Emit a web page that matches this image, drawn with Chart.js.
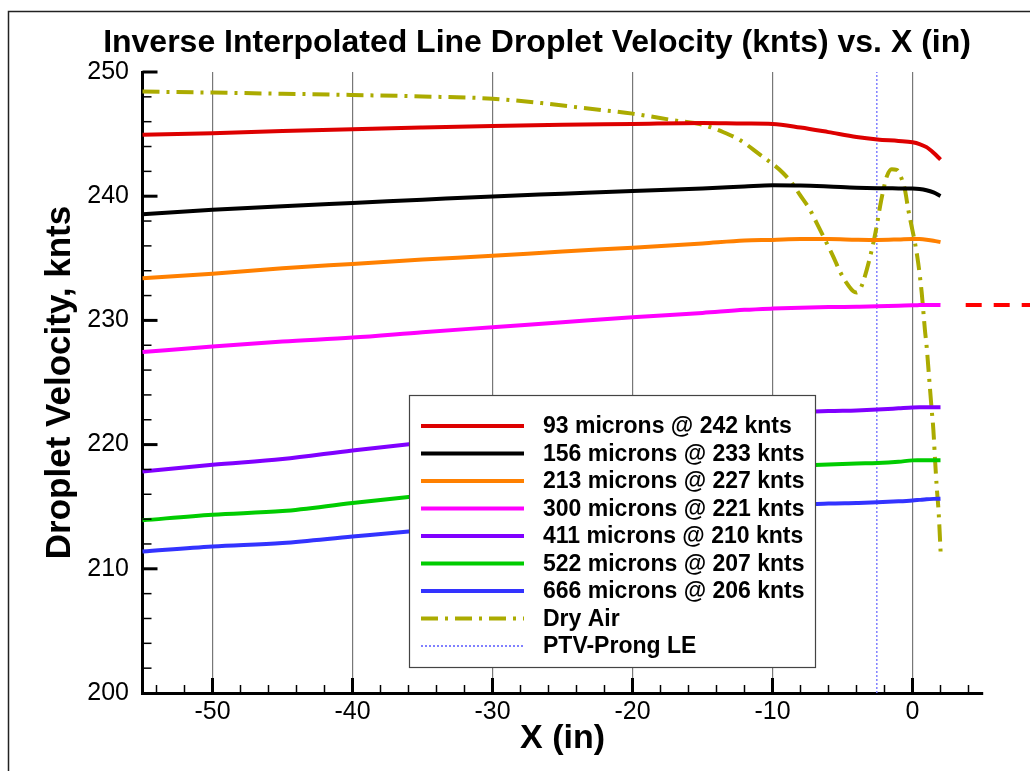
<!DOCTYPE html>
<html>
<head>
<meta charset="utf-8">
<title>Droplet Velocity vs. X</title>
<script src="https://cdn.jsdelivr.net/npm/chart.js@4.4.1/dist/chart.umd.min.js"></script>
<style>
  html, body { margin: 0; padding: 0; background: #fff; }
  #wrap { position: relative; width: 1030px; height: 771px; }
</style>
</head>
<body>
<div id="wrap"><canvas id="velChart"></canvas></div>
<script>
"use strict";

/* ---- data ---- */
var X_TICKS = [-50, -40, -30, -20, -10, 0];
var Y_TICKS = [200, 210, 220, 230, 240, 250];

var LABELS = [
  '93 microns @ 242 knts',
  '156 microns @ 233 knts',
  '213 microns @ 227 knts',
  '300 microns @ 221 knts',
  '411 microns @ 210 knts',
  '522 microns @ 207 knts',
  '666 microns @ 206 knts',
  'Dry Air',
  'PTV-Prong LE'
];

// x stations (in) shared by the droplet curves
var X_DROP = [-55, -50, -45, -40, -35, -30, -25, -20, -15, -12, -10, -8, -6, -4, -2.5, -1, 0, 0.5, 1, 1.5, 2];

var V93  = [244.95, 245.07, 245.25, 245.40, 245.53, 245.65, 245.75, 245.82, 245.90, 245.85, 245.82, 245.53, 245.16, 244.77, 244.57, 244.45, 244.34, 244.20, 243.95, 243.50, 242.95];
var V156 = [238.55, 238.90, 239.20, 239.46, 239.72, 239.98, 240.20, 240.42, 240.62, 240.78, 240.88, 240.86, 240.78, 240.68, 240.64, 240.63, 240.62, 240.58, 240.48, 240.30, 240.02];
var V213 = [233.40, 233.75, 234.20, 234.55, 234.90, 235.20, 235.55, 235.85, 236.20, 236.43, 236.48, 236.55, 236.55, 236.50, 236.48, 236.52, 236.56, 236.55, 236.50, 236.42, 236.30];
var V300 = [227.45, 227.90, 228.30, 228.62, 229.05, 229.45, 229.85, 230.25, 230.60, 230.85, 230.95, 231.02, 231.07, 231.10, 231.13, 231.18, 231.22, 231.23, 231.24, 231.24, 231.23];
var V411 = [217.84, 218.38, 218.84, 219.53, 220.15, 220.70, 221.20, 221.60, 222.00, 222.30, 222.45, 222.60, 222.70, 222.75, 222.82, 222.92, 222.99, 223.00, 223.00, 223.00, 223.00];
var V522 = [213.90, 214.36, 214.65, 215.30, 215.90, 216.40, 216.85, 217.30, 217.70, 217.95, 218.10, 218.30, 218.40, 218.48, 218.52, 218.62, 218.73, 218.74, 218.75, 218.75, 218.75];
var V666 = [211.40, 211.80, 212.08, 212.60, 213.10, 213.50, 213.85, 214.20, 214.55, 214.75, 214.90, 215.15, 215.25, 215.30, 215.35, 215.43, 215.50, 215.55, 215.60, 215.63, 215.65];

// dry air run
var X_DRY = [-55, -50, -45, -40, -35, -30, -26.5, -23.5, -20, -17, -15, -13.5, -12.3, -10.9, -9.94, -9.23, -8.51, -8.04, -7.32, -6.84,
             -6.13, -5.66, -5.18, -4.7, -4.23, -4.0, -3.7, -3.27, -2.8, -2.56, -2.32, -2.08, -1.84, -1.49, -1.13, -0.89,
             -0.54, -0.3, -0.06, 0.18, 0.41, 0.66, 0.89, 1.01, 1.2, 1.37, 1.49, 1.61, 1.73, 1.87, 2.01];
var V_DRY = [248.42, 248.34, 248.25, 248.15, 248.03, 247.85, 247.50, 247.10, 246.65, 246.10, 245.75, 245.15, 244.50, 243.35, 242.55, 241.85,
             240.91, 240.10, 238.90, 237.83, 236.22, 235.14, 233.93, 233.00, 232.35, 232.25, 232.60, 234.07, 236.22, 237.56, 239.16,
             240.51, 241.58, 242.17, 242.12, 241.71, 240.51, 238.90, 237.56, 236.22, 234.60, 232.20, 229.20, 227.90, 225.20, 222.80,
             221.20, 218.80, 216.60, 214.50, 211.30];

// prong leading edge marker
var X_PTV = [-2.55, -2.55];
var V_PTV = [200, 250];

// reference level carried past the right end of the axis
var X_EXT = [3.8, 9];
var V_EXT = [231.25, 231.25];

function pts(xs, vs) {
  return xs.map(function(x, i) { return { x: x, y: vs[i] }; });
}

var FONT = "'Liberation Sans', Arial, Helvetica, sans-serif";
Chart.defaults.font.family = FONT;
Chart.defaults.color = '#000';

function curve(label, xs, vs, color) {
  return {
    label: label,
    data: pts(xs, vs),
    borderColor: color,
    borderWidth: 4,
    pointRadius: 0,
    fill: false,
    cubicInterpolationMode: 'monotone'
  };
}

var dryAir = curve(LABELS[7], X_DRY, V_DRY, '#abab00');
dryAir.borderDash = [17, 7, 3, 7];

var datasets = [
  curve(LABELS[0], X_DROP, V93,  '#dd0000'),
  curve(LABELS[1], X_DROP, V156, '#000000'),
  curve(LABELS[2], X_DROP, V213, '#ff8000'),
  curve(LABELS[3], X_DROP, V300, '#ff00ff'),
  curve(LABELS[4], X_DROP, V411, '#8000ff'),
  curve(LABELS[5], X_DROP, V522, '#00cc00'),
  curve(LABELS[6], X_DROP, V666, '#3333ff'),
  dryAir,
  {
    label: LABELS[8],
    data: pts(X_PTV, V_PTV),
    borderColor: '#8080ff',
    borderWidth: 1.5,
    borderDash: [2, 2],
    pointRadius: 0,
    tension: 0
  },
  {
    label: '',
    data: pts(X_EXT, V_EXT),
    borderColor: '#ff0000',
    borderWidth: 4,
    borderDash: [16, 12],
    pointRadius: 0,
    tension: 0,
    clip: false
  }
];

/* ---- plugins ---- */
// page frame + bold title
var frameAndTitle = {
  id: 'frameAndTitle',
  beforeDraw: function(chart) {
    var ctx = chart.ctx;
    ctx.save();
    ctx.fillStyle = '#fff';
    ctx.fillRect(0, 0, chart.width, chart.height);
    ctx.strokeStyle = '#222';
    ctx.lineWidth = 1.5;
    ctx.strokeRect(8.5, 11.5, chart.width + 20, chart.height + 20);
    ctx.restore();
  },
  afterDraw: function(chart) {
    var ctx = chart.ctx;
    ctx.save();
    ctx.fillStyle = '#000';
    ctx.font = 'bold 32px ' + FONT;
    ctx.textAlign = 'center';
    ctx.textBaseline = 'alphabetic';
    ctx.fillText('Inverse Interpolated Line Droplet Velocity (knts) vs. X (in)', 537, 52);
    ctx.restore();
  }
};

// tick marks pointing into the plot, majors every 10, minors every 2
var inwardTicks = {
  id: 'inwardTicks',
  afterDatasetsDraw: function(chart) {
    var ctx = chart.ctx, xs = chart.scales.x, ys = chart.scales.y, a = chart.chartArea;
    ctx.save();
    ctx.strokeStyle = '#000';
    for (var v = 202; v <= 250; v += 2) {
      var majorY = v % 10 === 0;
      var py = ys.getPixelForValue(v);
      ctx.lineWidth = majorY ? 3 : 1.5;
      ctx.beginPath();
      ctx.moveTo(a.left, py);
      ctx.lineTo(a.left + (majorY ? 15 : 9), py);
      ctx.stroke();
    }
    for (var u = -54; u <= 4; u += 2) {
      var majorX = u % 10 === 0;
      var px = xs.getPixelForValue(u);
      ctx.lineWidth = majorX ? 3 : 1.5;
      ctx.beginPath();
      ctx.moveTo(px, a.bottom);
      ctx.lineTo(px, a.bottom - (majorX ? 15 : 8));
      ctx.stroke();
    }
    ctx.restore();
  }
};

// boxed legend sitting inside the plot
var boxLegend = {
  id: 'boxLegend',
  afterDatasetsDraw: function(chart) {
    var ctx = chart.ctx;
    var items = chart.data.datasets.filter(function(d) { return d.label; });
    ctx.save();
    ctx.fillStyle = '#fff';
    ctx.fillRect(409, 395, 406, 272);
    ctx.strokeStyle = '#444';
    ctx.lineWidth = 1.2;
    ctx.strokeRect(409.5, 395.5, 406, 272);
    ctx.font = 'bold 23px ' + FONT;
    ctx.textBaseline = 'middle';
    ctx.textAlign = 'left';
    items.forEach(function(d, i) {
      var y = 426 + i * 27.5;
      ctx.beginPath();
      ctx.setLineDash(d.borderDash || []);
      ctx.lineWidth = d.borderWidth === 1.5 ? 2 : d.borderWidth;
      ctx.strokeStyle = d.borderColor;
      ctx.moveTo(421, y);
      ctx.lineTo(524, y);
      ctx.stroke();
      ctx.setLineDash([]);
      ctx.fillStyle = '#000';
      ctx.fillText(d.label, 543, y + 1);
    });
    ctx.restore();
  }
};

/* ---- chart ---- */
new Chart(document.getElementById('velChart'), {
  type: 'line',
  data: { datasets: datasets },
  plugins: [frameAndTitle, inwardTicks, boxLegend],
  options: {
    responsive: true,
    maintainAspectRatio: false,
    animation: false,
    events: [],
    layout: { padding: { left: 8, top: 72, right: 47.5, bottom: 0 } },
    plugins: {
      legend: { display: false },
      title: { display: false },
      tooltip: { enabled: false }
    },
    scales: {
      x: {
        type: 'linear',
        bounds: 'data',
        afterDataLimits: function(s) { s.min = -55; s.max = 5; },
        afterBuildTicks: function(s) { s.ticks = X_TICKS.map(function(v) { return { value: v }; }); },
        afterFit: function(s) { s.height = 78; },
        grid: { color: '#777', lineWidth: 1.2, drawTicks: false },
        border: { display: true, color: '#000', width: 3 },
        ticks: {
          color: '#000',
          padding: 4,
          maxRotation: 0,
          autoSkip: false,
          font: { size: 25 },
          callback: function(v) { return String(v); }
        },
        title: {
          display: true,
          text: 'X (in)',
          color: '#000',
          font: { size: 34, weight: 'bold' },
          padding: { top: 0, bottom: 11.6 }
        }
      },
      y: {
        type: 'linear',
        min: 200,
        max: 250,
        afterBuildTicks: function(s) { s.ticks = Y_TICKS.map(function(v) { return { value: v }; }); },
        afterFit: function(s) { s.width = 134.5; },
        grid: { display: false, drawTicks: false },
        border: { display: true, color: '#000', width: 3 },
        ticks: {
          color: '#000',
          padding: 13.5,
          font: { size: 25 },
          callback: function(v) { return String(v); }
        },
        title: {
          display: true,
          text: 'Droplet Velocity, knts',
          color: '#000',
          font: { size: 35, weight: 'bold' },
          padding: { top: 31, bottom: 0 }
        }
      }
    }
  }
});
</script>
</body>
</html>
